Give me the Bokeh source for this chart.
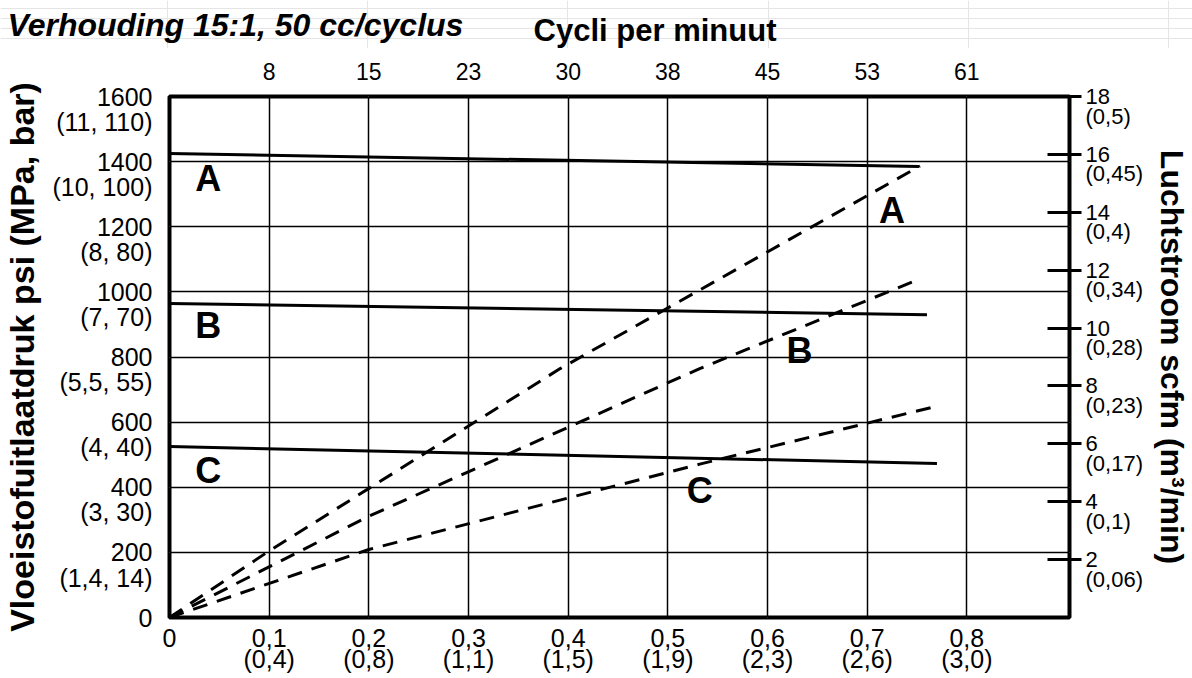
from bokeh.plotting import figure
from bokeh.models import Range1d, LinearAxis, FixedTicker, Label, Grid
from bokeh.layouts import column
from bokeh.core.properties import value
from bokeh.embed import file_html
from bokeh.resources import INLINE

# ---------------- data ----------------
flow_ticks = [0, 0.1, 0.2, 0.3, 0.4, 0.5, 0.6, 0.7, 0.8]
flow_labels = ["0", "0,1\n(0,4)", "0,2\n(0,8)", "0,3\n(1,1)", "0,4\n(1,5)",
               "0,5\n(1,9)", "0,6\n(2,3)", "0,7\n(2,6)", "0,8\n(3,0)"]
cycle_ticks = [0.1, 0.2, 0.3, 0.4, 0.5, 0.6, 0.7, 0.8]
cycle_labels = ["8", "15", "23", "30", "38", "45", "53", "61"]
psi_ticks = [0, 200, 400, 600, 800, 1000, 1200, 1400, 1600]
psi_labels = ["0", "200\n(1,4, 14)", "400\n(3, 30)", "600\n(4, 40)", "800\n(5,5, 55)",
              "1000\n(7, 70)", "1200\n(8, 80)", "1400\n(10, 100)", "1600\n(11, 110)"]
scfm_ticks = [2, 4, 6, 8, 10, 12, 14, 16, 18]
scfm_labels = ["2\n(0,06)", "4\n(0,1)", "6\n(0,17)", "8\n(0,23)", "10\n(0,28)",
               "12\n(0,34)", "14\n(0,4)", "16\n(0,45)", "18\n(0,5)"]

# fluid outlet pressure (psi) vs flow (gpm)
press_a_x = [0.0, 0.752]
press_a_y = [1425, 1385]
press_b_x = [0.0, 0.76]
press_b_y = [964, 930]
press_c_x = [0.0, 0.77]
press_c_y = [525, 473]

# air flow (scfm) vs flow (gpm)
air_a_x = [0.0, 0.1, 0.392, 0.753]
air_a_y = [0.0, 2.3, 8.6, 15.6]
air_b_x = [0.0, 0.2, 0.532, 0.753]
air_b_y = [0.0, 3.5, 8.6, 11.7]
air_c_x = [0.0, 0.2, 0.532, 0.765]
air_c_y = [0.0, 2.35, 5.3, 7.26]

curve_names = ["A", "B", "C", "A", "B", "C"]
curve_label_x = [0.039, 0.039, 0.039, 0.725, 0.632, 0.532]
curve_label_y = [1348, 897, 451, 1250, 820, 390]

title_text = "Verhouding 15:1, 50 cc/cyclus"
top_title_text = "Cycli per minuut"

FONT = "Liberation Sans"

W = 1192
HEAD_H = 48
MAIN_H = 678 - HEAD_H

# ---------------- header (titles) ----------------
header = figure(width=W, height=HEAD_H,
                x_range=Range1d(-0.167, 1.024), y_range=Range1d(0, HEAD_H),
                output_backend="svg", toolbar_location=None,
                x_axis_location=None, y_axis_location=None,
                min_border=0, min_border_left=0, min_border_right=0,
                min_border_top=0, min_border_bottom=0)
header.frame_align = False
header.outline_line_color = None
header.background_fill_color = "white"
header.border_fill_color = "white"
header.text(x=[-0.16], y=[24], text=[title_text], text_font=value(FONT),
            text_font_style="bold italic", text_font_size="32px",
            text_align="left", text_baseline="alphabetic", text_color="black")
header.text(x=[0.487], y=[18], text=[top_title_text], text_font=value(FONT),
            text_font_style="bold", text_font_size="31px",
            text_align="center", text_baseline="middle", text_color="black")

# ---------------- main chart ----------------
p = figure(width=W, height=MAIN_H,
           x_range=Range1d(0, 0.903), y_range=Range1d(0, 1600),
           output_backend="svg", toolbar_location=None,
           x_axis_location=None, y_axis_location=None,
           min_border_left=167, min_border_right=121,
           min_border_top=96 - HEAD_H, min_border_bottom=61)
p.frame_align = False
p.extra_y_ranges = {"air": Range1d(0, 18)}
p.outline_line_color = "black"
p.outline_line_width = 4
p.background_fill_color = "white"
p.border_fill_color = "white"

xg = Grid(dimension=0, ticker=FixedTicker(ticks=cycle_ticks),
          grid_line_color="black", grid_line_width=1.5)
yg = Grid(dimension=1, ticker=FixedTicker(ticks=psi_ticks[1:-1]),
          grid_line_color="black", grid_line_width=1.5)
p.add_layout(xg)
p.add_layout(yg)


def style_axis(ax, size="25px"):
    ax.axis_line_color = None
    ax.major_tick_line_color = None
    ax.minor_tick_line_color = None
    ax.major_tick_out = 0
    ax.major_tick_in = 0
    ax.minor_tick_out = 0
    ax.minor_tick_in = 0
    ax.major_label_text_font = FONT
    ax.major_label_text_font_size = size
    ax.major_label_text_color = "black"
    ax.axis_label_text_font = FONT
    ax.axis_label_text_font_style = "bold"
    ax.axis_label_text_color = "black"
    ax.axis_label_text_font_size = "32px"


bottom = LinearAxis(ticker=FixedTicker(ticks=flow_ticks),
                    major_label_overrides=dict(zip(flow_ticks, flow_labels)))
style_axis(bottom)
bottom.major_label_standoff = 6
bottom.major_label_text_line_height = 0.75
p.add_layout(bottom, "below")

top = LinearAxis(ticker=FixedTicker(ticks=cycle_ticks),
                 major_label_overrides=dict(zip(cycle_ticks, cycle_labels)))
style_axis(top, "23px")
top.major_label_standoff = 17
p.add_layout(top, "above")

left = LinearAxis(ticker=FixedTicker(ticks=psi_ticks),
                  major_label_overrides={t: ("\n" + l if "\n" in l else l)
                                         for t, l in zip(psi_ticks, psi_labels)},
                  axis_label="Vloeistofuitlaatdruk psi (MPa, bar)")
style_axis(left)
left.axis_label_text_font_size = "34px"
left.major_label_standoff = 17
left.major_label_text_line_height = 0.9
left.axis_label_standoff = 8
p.add_layout(left, "left")

right = LinearAxis(y_range_name="air", ticker=FixedTicker(ticks=scfm_ticks),
                   major_label_overrides={t: "\n" + l for t, l in zip(scfm_ticks, scfm_labels)},
                   axis_label="Luchtstroom scfm (m³/min)")
style_axis(right, "22px")
right.major_tick_line_color = "black"
right.major_tick_line_width = 3
right.major_tick_in = 22
right.major_tick_out = 12
right.major_label_standoff = 4
right.major_label_text_line_height = 0.78
right.axis_label_standoff = 8
p.add_layout(right, "right")

for xs, ys in [(press_a_x, press_a_y), (press_b_x, press_b_y), (press_c_x, press_c_y)]:
    p.line(xs, ys, line_color="black", line_width=3)
for xs, ys in [(air_a_x, air_a_y), (air_b_x, air_b_y), (air_c_x, air_c_y)]:
    p.line(xs, ys, line_color="black", line_width=3, line_dash="15 10", y_range_name="air")

for name, lx, ly in zip(curve_names, curve_label_x, curve_label_y):
    p.add_layout(Label(x=lx, y=ly, text=name, text_font=FONT, text_font_style="bold",
                       text_font_size="36px", text_align="center", text_baseline="middle",
                       text_color="black"))

layout = column(header, p, spacing=0)
open("out.html", "w").write(file_html(layout, INLINE))
